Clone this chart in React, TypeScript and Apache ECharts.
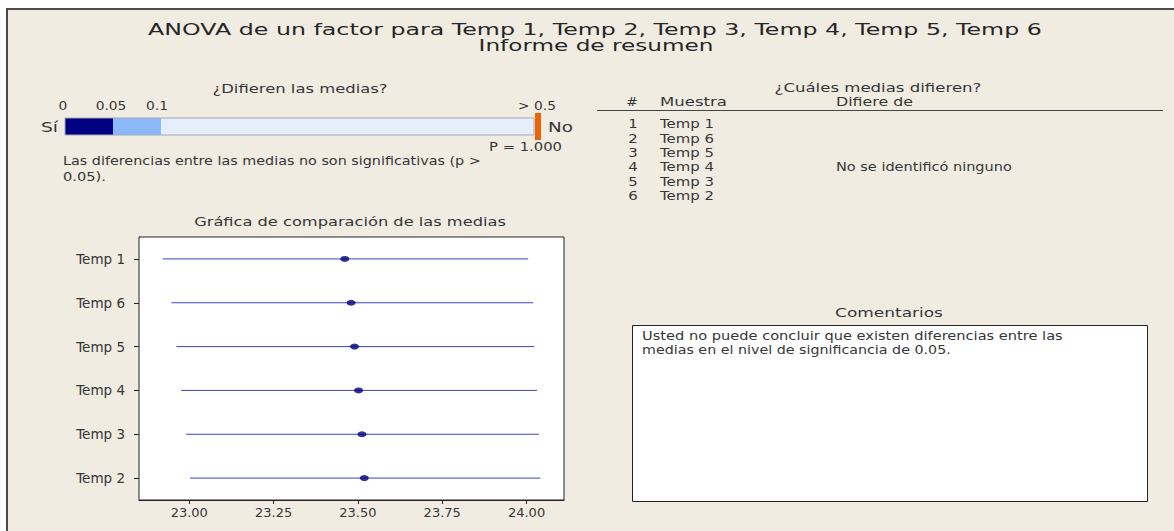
import React, { useEffect, useRef } from "react";
import * as echarts from "echarts";

// ---- data ----
const categories = ["Temp 1", "Temp 6", "Temp 5", "Temp 4", "Temp 3", "Temp 2"];
const lowerCI = [22.921, 22.947, 22.962, 22.976, 22.991, 23.002];
const means = [23.461, 23.48, 23.49, 23.502, 23.512, 23.519];
const upperCI = [24.005, 24.02, 24.022, 24.031, 24.037, 24.041];
const xTicks = [23.0, 23.25, 23.5, 23.75, 24.0];
const xMin = 22.851;
const xMax = 24.111;

const pScaleTicks = [0, 0.05, 0.1, 0.5];
const pScaleLabels = ["0", "0.05", "0.1", "> 0.5"];
const pSegmentColors = ["#000080", "#8DB9FA", "#E6EEFB"];
const pValue = 1.0;

const rankNumbers = ["1", "2", "3", "4", "5", "6"];
const rankSamples = ["Temp 1", "Temp 6", "Temp 5", "Temp 4", "Temp 3", "Temp 2"];

const FONT = "DejaVu Sans";
const TEXT = "#363636";

let measureCtx: CanvasRenderingContext2D | null = null;
function measure(text: string, size: number) {
  if (!measureCtx) measureCtx = document.createElement("canvas").getContext("2d");
  measureCtx!.font = `${size}px "${FONT}"`;
  return measureCtx!.measureText(text).width || 1;
}

function T(
  text: string,
  x: number,
  y: number,
  size: number,
  opts: { w?: number; sx?: number; align?: string; fill?: string } = {}
) {
  const align = opts.align || "left";
  const sx = opts.w ? opts.w / measure(text, size) : opts.sx || 1.15;
  return {
    type: "text",
    x,
    y,
    scaleX: sx,
    silent: true,
    z: 5,
    style: {
      text,
      x: 0,
      y: 0,
      fill: opts.fill || TEXT,
      font: `${size}px "${FONT}"`,
      fontSize: size,
      fontFamily: FONT,
      align,
      textAlign: align,
      verticalAlign: "middle",
      textVerticalAlign: "middle",
    },
  };
}

// piecewise position on the p-value indicator bar
const pBarPx = [65, 113, 161, 534];
function pToPx(p: number) {
  if (p >= pScaleTicks[pScaleTicks.length - 1]) return pBarPx[pBarPx.length - 1];
  for (let i = 0; i < pScaleTicks.length - 1; i++) {
    if (p <= pScaleTicks[i + 1]) {
      const t = (p - pScaleTicks[i]) / (pScaleTicks[i + 1] - pScaleTicks[i]);
      return pBarPx[i] + t * (pBarPx[i + 1] - pBarPx[i]);
    }
  }
  return pBarPx[0];
}

export default function App() {
  const ref = useRef<HTMLDivElement>(null);
  useEffect(() => {
    if (!ref.current) return;
    const chart = echarts.init(ref.current, undefined, { renderer: "svg" });

    const graphics: any[] = [];
    // background frame
    graphics.push({ type: "rect", z: -10, silent: true, shape: { x: 8, y: 10, width: 1166, height: 521 }, style: { fill: "#F0ECE2" } });
    graphics.push({ type: "line", z: -9, silent: true, shape: { x1: 7, y1: 9, x2: 1174, y2: 9 }, style: { stroke: "#4a4a4a", lineWidth: 2 } });
    graphics.push({ type: "line", z: -9, silent: true, shape: { x1: 7, y1: 8, x2: 7, y2: 531 }, style: { stroke: "#4a4a4a", lineWidth: 2 } });

    // titles
    graphics.push(T("ANOVA de un factor para Temp 1, Temp 2, Temp 3, Temp 4, Temp 5, Temp 6", 595, 29, 16, { w: 894, align: "center", fill: "#262626" }));
    graphics.push(T("Informe de resumen", 596, 46, 16, { w: 235, align: "center", fill: "#262626" }));

    // p-value section
    graphics.push(T("¿Difieren las medias?", 300, 89, 12, { w: 175, align: "center" }));
    const labelCenters = [63, 111, 157, 537];
    pScaleLabels.forEach((lab, i) => {
      graphics.push(T(lab, labelCenters[i], 106, 12, { sx: 1.15, align: "center" }));
    });
    for (let i = 0; i < pSegmentColors.length; i++) {
      const x1 = pToPx(pScaleTicks[i]);
      const x2 = pToPx(pScaleTicks[i + 1]);
      graphics.push({ type: "rect", silent: true, z: 3, shape: { x: x1, y: 118, width: x2 - x1, height: 17 }, style: { fill: pSegmentColors[i] } });
    }
    graphics.push({ type: "rect", silent: true, z: 4, shape: { x: 65, y: 118, width: 469, height: 17 }, style: { fill: "none", stroke: "#A4A8B8", lineWidth: 1 } });
    const mx = pToPx(pValue);
    graphics.push({ type: "rect", silent: true, z: 4, shape: { x: mx + 1, y: 113, width: 6, height: 27 }, style: { fill: "#E8650A" } });
    graphics.push(T("Sí", 41, 127, 14, { w: 17 }));
    graphics.push(T("No", 548, 127, 14, { w: 25 }));
    graphics.push(T(`P = ${pValue.toFixed(3)}`, 562, 147, 12, { w: 73, align: "right" }));
    graphics.push(T("Las diferencias entre las medias no son significativas (p >", 63, 161, 12, { w: 418 }));
    graphics.push(T("0.05).", 63, 177, 12, { w: 43 }));

    // which means differ table
    graphics.push(T("¿Cuáles medias difieren?", 878, 88, 12, { w: 207, align: "center" }));
    graphics.push(T("#", 632, 102, 12, { sx: 1.15, align: "center" }));
    graphics.push(T("Muestra", 660, 102, 12, { w: 67 }));
    graphics.push(T("Difiere de", 836, 102, 12, { w: 77 }));
    graphics.push({ type: "line", silent: true, z: 4, shape: { x1: 597, y1: 110.5, x2: 1163, y2: 110.5 }, style: { stroke: "#444", lineWidth: 1 } });
    const rowScale = 54 / measure("Temp 1", 12);
    rankNumbers.forEach((n, i) => {
      const y = 124 + i * 14.3;
      graphics.push(T(n, 633, y, 12, { sx: rowScale, align: "center" }));
      graphics.push(T(rankSamples[i], 660, y, 12, { sx: rowScale }));
    });
    graphics.push(T("No se identificó ninguno", 836, 166.5, 12, { w: 176 }));

    // comments
    graphics.push(T("Comentarios", 889, 313, 12, { w: 108, align: "center" }));
    graphics.push({ type: "rect", silent: true, z: 3, shape: { x: 632.5, y: 325.5, width: 515, height: 176 }, style: { fill: "#ffffff", stroke: "#222", lineWidth: 1 } });
    graphics.push(T("Usted no puede concluir que existen diferencias entre las", 642, 336, 12, { w: 421 }));
    graphics.push(T("medias en el nivel de significancia de 0.05.", 642, 350, 12, { w: 309 }));

    // chart title
    graphics.push(T("Gráfica de comparación de las medias", 350, 222, 12, { w: 312, align: "center" }));

    chart.setOption({
      animation: false,
      backgroundColor: "#ffffff",
      graphic: { elements: graphics },
      grid: {
        left: 139,
        top: 237,
        width: 425,
        height: 263,
        show: true,
        backgroundColor: "#ffffff",
        borderColor: "#222",
        borderWidth: 1,
        z: 1,
      },
      xAxis: {
        type: "value",
        min: xMin,
        max: xMax,
        splitLine: { show: false },
        axisLine: { show: true, lineStyle: { color: "#222" } },
        axisTick: { show: true, length: 4, customValues: xTicks, lineStyle: { color: "#222" } },
        axisLabel: {
          customValues: xTicks,
          formatter: (v: number) => v.toFixed(2),
          fontFamily: FONT,
          fontSize: 13,
          color: TEXT,
          margin: 6,
        },
      },
      yAxis: {
        type: "category",
        data: categories,
        inverse: true,
        axisLine: { show: true, lineStyle: { color: "#222" } },
        axisTick: { show: true, alignWithLabel: true, length: 5, lineStyle: { color: "#222" } },
        axisLabel: { fontFamily: FONT, fontSize: 13.5, color: TEXT, margin: 14 },
        splitLine: { show: false },
      },
      series: [
        {
          type: "custom",
          z: 3,
          data: categories.map((c, i) => [i, lowerCI[i], upperCI[i]]),
          encode: { x: [1, 2], y: 0 },
          renderItem: (params: any, api: any) => {
            const yi = api.value(0);
            const p1 = api.coord([api.value(1), yi]);
            const p2 = api.coord([api.value(2), yi]);
            return {
              type: "line",
              shape: { x1: p1[0], y1: p1[1], x2: p2[0], y2: p2[1] },
              style: { stroke: "#4242C4", lineWidth: 1 },
            };
          },
        },
        {
          type: "scatter",
          z: 4,
          symbol: "circle",
          symbolSize: [9, 6],
          itemStyle: { color: "#00007A" },
          data: categories.map((c, i) => [means[i], c]),
        },
      ],
    });
    return () => chart.dispose();
  }, []);
  return (
    <div
      ref={ref}
      style={{ position: "absolute", left: 0, top: 0, width: 1174, height: 531 }}
    />
  );
}
